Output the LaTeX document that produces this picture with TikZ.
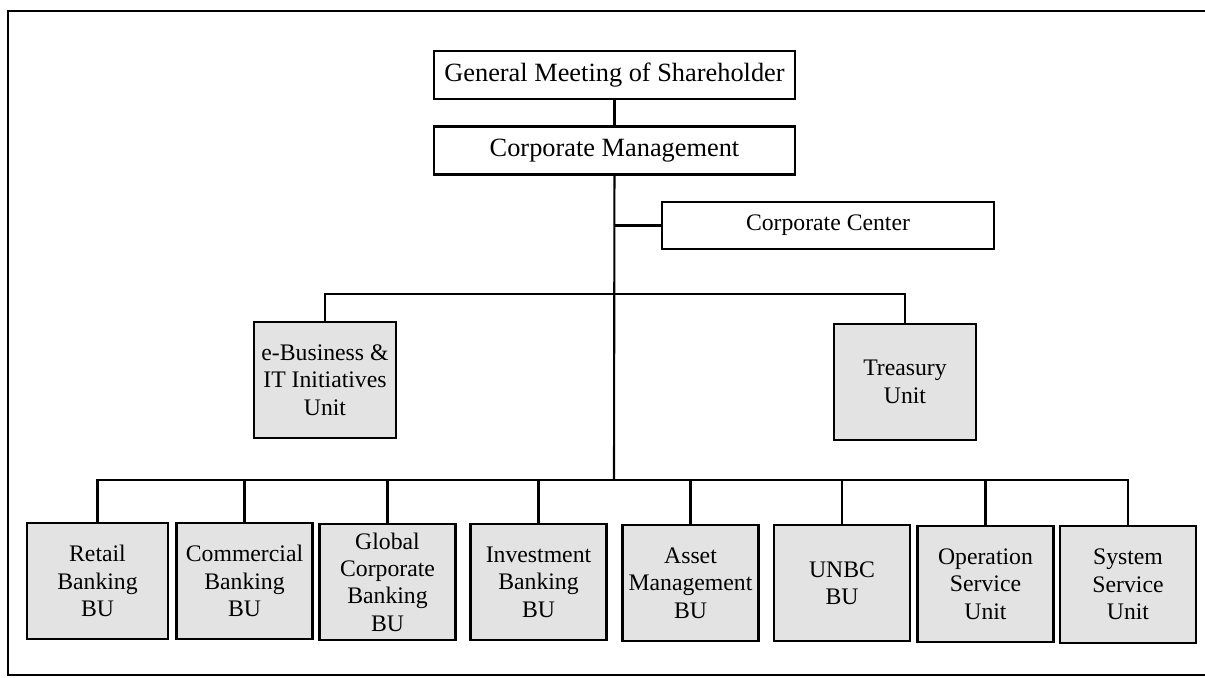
\documentclass[tikz,border=0pt]{standalone}
\usepackage{fontspec}
\setmainfont{Liberation Serif}
\usetikzlibrary{positioning}
\tikzset{every path/.style={line width=1.2pt},
  head/.style={draw,line width=1.3pt,minimum width=7.22cm,minimum height=0.96cm,font=\fontsize{15}{17}\selectfont},
  unit/.style={draw,line width=1.4pt,fill=black!11,align=center,minimum width=2.72cm,minimum height=2.33cm,inner sep=1pt,font=\fontsize{13.5}{15.6}\selectfont}}

\begin{document}
\begin{tikzpicture}[x=0.02cm,y=-0.02cm]
  \useasboundingbox (0,0) rectangle (1205,677);
  \draw[line width=1pt] (8,11) rectangle (1212,675);
  % top of the chart
  \node[head] (gms) at (614.5,75) {General Meeting of Shareholder};
  \node[head] (cm)  at (614.5,150.5) {Corporate Management};
  \node[head,minimum width=6.64cm,minimum height=0.94cm,font=\fontsize{13.5}{15.6}\selectfont] (cc) at (828,225.5) {Corporate Center};
  \node[unit,minimum width=2.84cm] (ebiz)  at (325,380) {e-Business \&\\IT Initiatives\\Unit};
  \node[unit,minimum width=2.84cm] (treas) at (905,382) {Treasury\\Unit};
  % business units
  \node[unit,minimum width=2.82cm] (retail) at (97.5,581) {Retail\\Banking\\BU};
  \node[unit] (comm)   at (244.5,581) {Commercial\\Banking\\BU};
  \node[unit] (global) at (387.5,582) {Global\\Corporate\\Banking\\BU};
  \node[unit] (invest) at (538.5,582) {Investment\\Banking\\BU};
  \node[unit] (asset)  at (690.5,583) {Asset\\Management\\BU};
  \node[unit] (unbc)   at (842,583) {UNBC\\BU};
  \node[unit] (oper)   at (985.5,584) {Operation\\Service\\Unit};
  \node[unit] (sys)    at (1128,584.5) {System\\Service\\Unit};
  \coordinate (mid) at (614,294);
  \coordinate (low) at (614,480);
  % connectors
  \draw (gms) -- (cm);
  \draw (cm) -- (low);
  \draw (cc) -- (cc -| cm);
  \draw (ebiz) |- (mid) -| (treas);
  \draw (retail) |- (low) -| (sys);
  \foreach \u in {comm,global,invest,asset,unbc,oper}
    \draw (\u) -- (\u |- low);
\end{tikzpicture}
\end{document}
